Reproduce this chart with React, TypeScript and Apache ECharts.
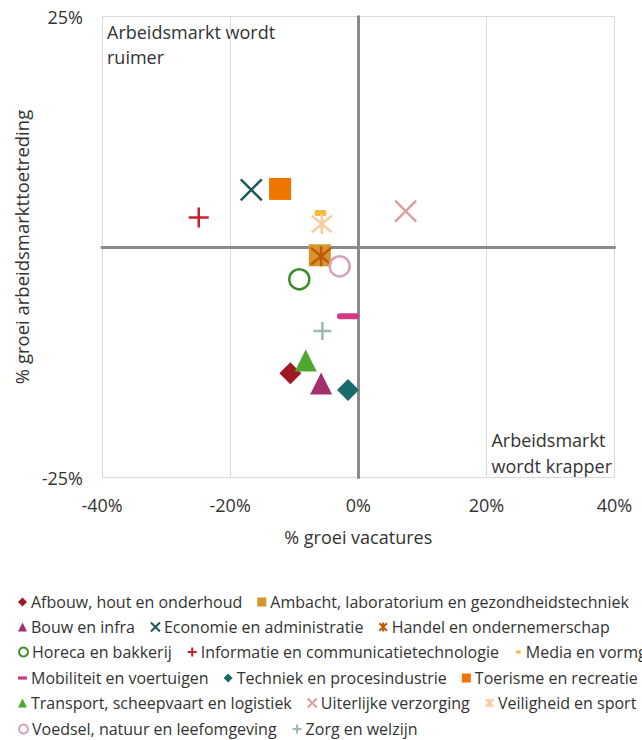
import React, { useEffect, useRef } from "react";
import * as echarts from "echarts";

// ---- data ----
const categories = [
  "Afbouw, hout en onderhoud",
  "Ambacht, laboratorium en gezondheidstechniek",
  "Bouw en infra",
  "Economie en administratie",
  "Handel en ondernemerschap",
  "Horeca en bakkerij",
  "Informatie en communicatietechnologie",
  "Media en vormgeving",
  "Mobiliteit en voertuigen",
  "Techniek en procesindustrie",
  "Toerisme en recreatie",
  "Transport, scheepvaart en logistiek",
  "Uiterlijke verzorging",
  "Veiligheid en sport",
  "Voedsel, natuur en leefomgeving",
  "Zorg en welzijn",
];
// % groei vacatures (x)
const vacatureGroei = [-10.6, -6.0, -5.8, -16.7, -5.8, -9.2, -24.9, -5.9, -1.6, -1.6, -12.2, -8.2, 7.4, -5.7, -2.9, -5.6];
// % groei arbeidsmarkttoetreding (y)
const toetredingGroei = [-13.7, -0.9, -14.8, 6.2, -1.0, -3.5, 3.2, 3.7, -7.5, -15.5, 6.3, -12.3, 3.9, 2.5, -2.1, -9.1];

const xTicks = [-40, -20, 0, 20, 40];
const yTicks = [-25, 0, 25];

// legend rows (indices into categories)
const legendRows = [
  [0, 1],
  [2, 3, 4],
  [5, 6, 7],
  [8, 9, 10],
  [11, 12, 13],
  [14, 15],
];

// ---- styles ----
const colors = [
  "#9e1a22", "#d4952a", "#a3306e", "#1e5a5a", "#c0580e", "#3c8c28", "#c8202f", "#f5b942",
  "#d23a87", "#1c6b6b", "#f07400", "#4ea72e", "#d9a0a0", "#fbcb9a", "#d8a0b8", "#9fb7b5",
];
const X_PATH = "path://M0,0L10,10M10,0L0,10";
const PLUS_PATH = "path://M5,0L5,10M0,5L10,5";
const STAR_PATH = "path://M0,0L10,10M10,0L0,10M5,-1L5,11";
const DASH_PATH = "path://M1.5,0h19a1.5,1.5 0 0 1 0,6h-19a1.5,1.5 0 0 1 0,-6z";
// legend icons for the dashes (padded to a square box)
const DASH_LEGEND = "path://M0,0M0,10M0,3.2h10v3.6h-10z";
const SMALL_DASH_LEGEND = "path://M0,0M0,10M2.5,3.3h5v3.4h-5z";

type Kind = "fill" | "stroke" | "hollow";
const symbols: [string, any, Kind][] = [
  ["diamond", 22, "fill"],
  ["rect", 22, "fill"],
  ["triangle", 22, "fill"],
  [X_PATH, 21, "stroke"],
  [STAR_PATH, 20, "stroke"],
  ["circle", 20, "hollow"],
  [PLUS_PATH, 20, "stroke"],
  [DASH_PATH, [12, 6], "fill"],
  [DASH_PATH, [22, 6], "fill"],
  ["diamond", 22, "fill"],
  ["rect", 22, "fill"],
  ["triangle", 22, "fill"],
  [X_PATH, 21, "stroke"],
  [STAR_PATH, 20, "stroke"],
  ["circle", 20, "hollow"],
  [PLUS_PATH, 18, "stroke"],
];
const legendIcons: Record<number, string> = { 7: SMALL_DASH_LEGEND, 8: DASH_LEGEND };

const FONT = "'Open Sans', 'Noto Sans', sans-serif";
const TEXT = "#333333";

export default function App() {
  const ref = useRef<HTMLDivElement>(null);

  useEffect(() => {
    if (!ref.current) return;
    const chart = echarts.init(ref.current, undefined, { renderer: "svg" });

    const series = categories.map((name, i) => {
      const [symbol, size, kind] = symbols[i];
      const c = colors[i];
      let itemStyle: any;
      if (kind === "fill") itemStyle = { color: c, opacity: 1 };
      else if (kind === "stroke") itemStyle = { color: c, borderColor: c, borderWidth: 2.5, opacity: 1 };
      else itemStyle = { color: "rgba(255,255,255,0)", borderColor: c, borderWidth: 2.5, opacity: 1 };
      return {
        name,
        type: "scatter",
        xAxisIndex: 0,
        yAxisIndex: 0,
        symbol,
        symbolSize: size,
        symbolKeepAspect: false,
        itemStyle,
        emphasis: { disabled: true },
        data: [[vacatureGroei[i], toetredingGroei[i]]],
      };
    });

    const rowTops = [591, 616, 641, 667, 692, 718];
    const legend = legendRows.map((row, r) => ({
      data: row.map((i) => (legendIcons[i] ? { name: categories[i], icon: legendIcons[i] } : categories[i])),
      left: 18,
      top: rowTops[r],
      orient: "horizontal",
      width: 1200,
      padding: 0,
      itemGap: 15,
      itemWidth: 9,
      itemHeight: 9,
      selectedMode: false,
      textStyle: { fontFamily: FONT, fontSize: 16, color: TEXT, padding: [0, 0, 0, -1], lineHeight: 22 },
    }));

    const option: any = {
      animation: false,
      backgroundColor: "#ffffff",
      textStyle: { fontFamily: FONT },
      grid: { left: 102, right: 27.5, top: 16.5, bottom: 262.5, containLabel: false },
      xAxis: [
        {
          type: "value",
          min: xTicks[0],
          max: xTicks[xTicks.length - 1],
          interval: xTicks[1] - xTicks[0],
          position: "bottom",
          axisLine: { show: false, onZero: false },
          axisTick: { show: false },
          axisLabel: { formatter: "{value}%", fontSize: 18, color: TEXT, margin: 18, fontFamily: FONT },
          splitLine: { show: true, lineStyle: { color: "#d9d9d9", width: 1 } },
          name: "% groei vacatures",
          nameLocation: "middle",
          nameGap: 50,
          nameTextStyle: { fontSize: 18, color: TEXT, fontFamily: FONT },
        },
        {
          type: "value",
          min: xTicks[0],
          max: xTicks[xTicks.length - 1],
          interval: xTicks[1] - xTicks[0],
          axisLine: { show: true, onZero: true, onZeroAxisIndex: 1, lineStyle: { color: "#8a8a8a", width: 3 } },
          axisTick: { show: false },
          axisLabel: { show: false },
          splitLine: { show: false },
        },
      ],
      yAxis: [
        {
          type: "value",
          min: yTicks[0],
          max: yTicks[yTicks.length - 1],
          interval: yTicks[1] - yTicks[0],
          position: "left",
          axisLine: { show: false, onZero: false },
          axisTick: { show: false },
          axisLabel: {
            formatter: (v: number) => (v === 0 ? "" : v + "%"),
            fontSize: 18,
            color: TEXT,
            margin: 19,
            fontFamily: FONT,
          },
          splitLine: { show: true, lineStyle: { color: "#d9d9d9", width: 1 } },
          name: "% groei arbeidsmarkttoetreding",
          nameLocation: "middle",
          nameRotate: 90,
          nameGap: 63,
          nameTextStyle: { fontSize: 18.5, color: TEXT, fontFamily: FONT },
        },
        {
          type: "value",
          min: yTicks[0],
          max: yTicks[yTicks.length - 1],
          interval: yTicks[1] - yTicks[0],
          axisLine: { show: true, onZero: true, onZeroAxisIndex: 0, lineStyle: { color: "#8a8a8a", width: 3 } },
          axisTick: { show: false },
          axisLabel: { show: false },
          splitLine: { show: false },
        },
      ],
      legend,
      graphic: [
        {
          type: "text",
          left: 107,
          top: 19,
          silent: true,
          style: {
            text: "Arbeidsmarkt wordt\nruimer",
            fontFamily: FONT,
            fontSize: 18,
            lineHeight: 25,
            fill: TEXT,
          },
        },
        {
          type: "text",
          right: 30,
          top: 427,
          silent: true,
          style: {
            text: "Arbeidsmarkt\nwordt krapper",
            fontFamily: FONT,
            fontSize: 18,
            lineHeight: 26,
            fill: TEXT,
            align: "right",
          },
        },
      ],
      series,
    };

    chart.setOption(option);
    return () => chart.dispose();
  }, []);

  return <div ref={ref} style={{ width: 642, height: 740, position: "absolute", left: 0, top: 0 }} />;
}
